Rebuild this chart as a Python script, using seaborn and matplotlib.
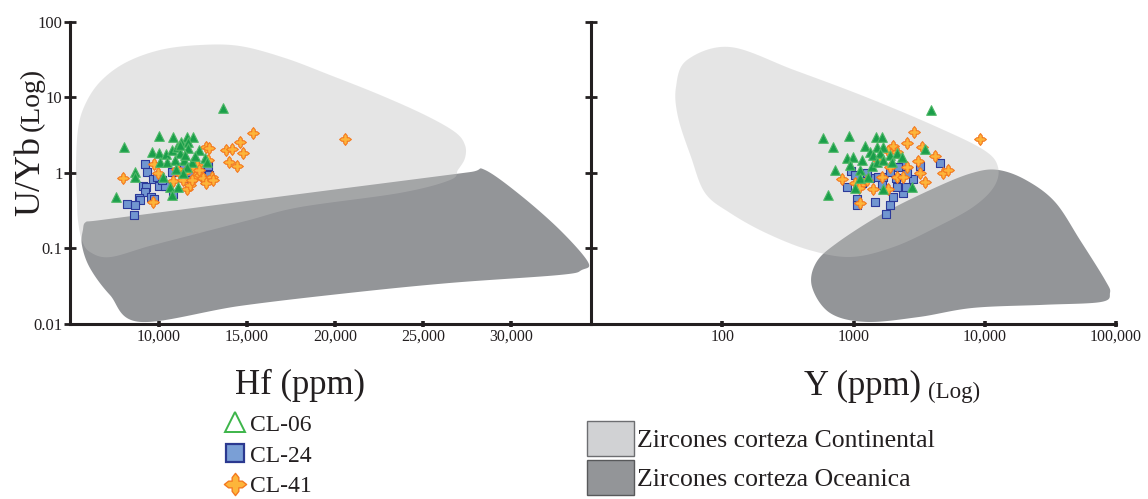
import numpy as np
import pandas as pd
import matplotlib
matplotlib.use("Agg")
import matplotlib.pyplot as plt
import seaborn as sns
from matplotlib.path import Path
from matplotlib.lines import Line2D
from matplotlib.patches import Patch, Polygon

# ---------------- data ----------------
samples = ["CL-06", "CL-24", "CL-41"]

# Hf panel (Hf ppm, U/Yb)
cl06_hf = [13640, 8010, 10000, 10800, 11590, 11930, 9600, 10000, 10400, 10740, 11020, 11250,
           11650, 11190, 11650, 12270, 12610, 12730, 10060, 10450, 10910, 11420, 11870, 8640,
           8640, 10230, 11590, 11360, 10620, 11080, 10740, 7560, 11190, 11480, 12050, 10960]
cl06_hf_uyb = [7.2, 2.2, 3.08, 3.0, 3.0, 3.0, 1.89, 1.83, 1.77, 2.0, 2.2, 2.56,
               2.56, 1.83, 2.13, 2.0, 1.56, 1.40, 1.40, 1.40, 1.48, 1.48, 1.40, 1.03,
               0.88, 0.88, 1.19, 1.0, 0.65, 0.65, 0.51, 0.48, 2.35, 1.72, 1.66, 1.12]

cl24_hf = [9205, 9318, 9659, 9091, 9262, 9205, 8864, 8921, 9546, 9716, 8182, 8637, 8580,
           10000, 10341, 10738, 10795, 11420, 11534, 12045, 12783, 12840, 9886, 11363,
           10170, 11761, 12329, 12613]
cl24_hf_uyb = [1.31, 1.03, 0.83, 0.67, 0.65, 0.556, 0.463, 0.44, 0.48, 0.45, 0.386, 0.375, 0.275,
               0.67, 0.67, 1.03, 0.523, 1.16, 0.85, 1.23, 1.23, 0.935, 0.88, 0.88,
               0.80, 1.03, 1.03, 0.80]

cl41_hf = [15339, 14601, 13806, 14146, 14771, 13976, 14430, 12670, 12840, 7955, 9716, 9943,
           9659, 10795, 11193, 11590, 11761, 11931, 12158, 12045, 12329, 12499, 12670, 13010,
           13067, 12783, 11022, 11363, 11874, 20565, 11477, 12272]
cl41_hf_uyb = [3.37, 2.56, 2.0, 2.05, 1.83, 1.40, 1.23, 2.2, 2.13, 0.85, 1.31, 1.0,
               0.41, 0.78, 0.97, 0.60, 0.69, 1.19, 1.26, 0.88, 0.935, 0.85, 0.74, 0.88,
               0.80, 1.48, 1.12, 0.80, 0.80, 2.8, 1.03, 1.09]

# Y panel (Y ppm, U/Yb)
cl06_y = [3890, 586, 924, 698, 1484, 1648, 3506, 1224, 1336, 1510, 1678, 892, 991, 1161,
          1408, 1592, 1897, 2145, 2342, 723, 1121, 1383, 1510, 1678, 1121, 1290, 1027, 1678,
          2790, 639, 940, 1964]
cl06_y_uyb = [6.8, 2.9, 3.08, 2.2, 3.0, 3.0, 2.05, 2.27, 1.89, 2.2, 2.2, 1.56, 1.61, 1.48,
              1.72, 1.83, 1.72, 1.83, 1.61, 1.09, 1.09, 1.23, 1.40, 1.48, 0.85, 0.88, 0.63, 0.61,
              0.65, 0.51, 1.26, 1.40]

cl24_y = [957, 892, 1064, 1064, 1459, 1770, 1897, 2000, 2383, 2512, 2840, 2557, 2383, 3212,
          4560, 1678, 2109, 1897, 1538, 1336, 1161, 1648, 2145, 1027, 1267, 2183]
cl24_y_uyb = [1.06, 0.65, 0.45, 0.375, 0.41, 0.284, 0.375, 0.48, 0.54, 0.65, 0.83, 1.0, 1.23, 1.23,
              1.35, 0.88, 0.85, 1.03, 0.88, 0.85, 0.74, 0.69, 0.65, 0.935, 1.0, 1.19]

cl41_y = [2891, 2557, 3326, 4178, 3099, 4808, 5248, 3506, 3212, 2557, 2000, 1831, 2145, 817,
          1408, 1121, 1648, 2145, 1897, 1831, 1121, 9200, 2383, 1538, 1267, 1027, 1101]
cl41_y_uyb = [3.47, 2.48, 2.2, 1.67, 1.43, 1.0, 1.09, 0.755, 1.0, 1.19, 2.27, 1.94, 1.89, 0.83,
              0.60, 0.40, 0.88, 0.88, 1.19, 0.61, 0.69, 2.8, 0.88, 1.48, 0.80, 0.74, 0.63]

# Field outlines (data coordinates)
cont_hf_x = [5342, 5286, 5399, 5797, 6649, 8069, 10057, 12329, 14601, 17157, 19713, 22553, 25109,
             26813, 27381, 27381, 26983, 26529, 23689, 18009, 15169, 12329, 9489, 7217, 6081, 5626, 5399]
cont_hf_y = [0.44, 1.09, 3.70, 7.93, 16.0, 28.6, 42.5, 49.5, 48.0, 33.3, 19.8, 10.8, 5.84,
             3.47, 2.34, 1.56, 1.09, 0.80, 0.54, 0.35, 0.237, 0.159, 0.107, 0.076, 0.089, 0.128, 0.237]
ocean_hf_x = [5854, 6649, 12329, 18009, 23689, 27665, 28517, 30505, 32777, 34367, 34026, 32777,
              26529, 20849, 14601, 8921, 7217, 6081, 5626, 5683]
ocean_hf_y = [0.222, 0.235, 0.35, 0.523, 0.774, 1.02, 1.09, 0.51, 0.174, 0.0656, 0.0514, 0.0441,
              0.0345, 0.0255, 0.0171, 0.0105, 0.0239, 0.0546, 0.110, 0.174]

cont_y_x = [114.6, 53.9, 44.4, 46.0, 57.8, 73.9, 114.6, 215, 458, 957, 2036, 4325, 8128, 11750,
            12620, 9860, 4325, 1245, 352]
cont_y_y = [46.6, 31.3, 13.7, 5.5, 1.62, 0.54, 0.293, 0.159, 0.0946, 0.0764, 0.104, 0.191, 0.35,
            0.65, 1.19, 2.0, 4.05, 10.1, 23.1]
ocean_y_x = [12620, 20610, 34280, 53200, 82400, 90000, 76900, 28250, 8128, 3155, 1245, 662, 483,
             518, 748, 1708, 4325, 8128]
ocean_y_y = [1.09, 0.80, 0.41, 0.128, 0.0379, 0.0255, 0.0193, 0.0177, 0.0161, 0.0122, 0.0105,
             0.0138, 0.0306, 0.0637, 0.117, 0.293, 0.65, 1.0]

hf_ticks = [10000, 15000, 20000, 25000, 30000]
hf_ticklabels = ["10,000", "15,000", "20,000", "25,000", "30,000"]
y_ticks = [100, 1000, 10000, 100000]
y_ticklabels = ["100", "1000", "10,000", "100,000"]
uyb_ticks = [0.01, 0.1, 1, 10, 100]
uyb_ticklabels = ["0.01", "0.1", "1", "10", "100"]

# ---------------- style ----------------
sns.set_style("white")
plt.rcParams["font.family"] = ["Liberation Serif", "DejaVu Serif"]
INK = "#231f20"

W, H = 1148, 499
fig = plt.figure(figsize=(W / 100, H / 100), dpi=100)
ax1 = fig.add_axes([70 / W, 1 - 323.5 / H, (591 - 70) / W, (323.5 - 22) / H])
ax2 = fig.add_axes([591 / W, 1 - 323.5 / H, (1116 - 591) / W, (323.5 - 22) / H])

cross = Path([(0, 1), (0.3, 0.62), (0.3, 0.3), (0.62, 0.3), (1, 0), (0.62, -0.3), (0.3, -0.3),
              (0.3, -0.62), (0, -1), (-0.3, -0.62), (-0.3, -0.3), (-0.62, -0.3), (-1, 0),
              (-0.62, 0.3), (-0.3, 0.3), (-0.3, 0.62), (0, 1)], closed=True)

styles = {
    "CL-06": dict(marker="^", color="#1a9e4a", edgecolor="#4fb867", s=48),
    "CL-24": dict(marker="s", color="#7196d0", edgecolor="#2c3a9a", s=32),
    "CL-41": dict(marker=cross, color="#fdb53a", edgecolor="#f47920", s=72),
}

OCEAN = "#939598"
CONT = "#c0c0c0"


def smooth_closed(xs, ys, n=24):
    P = np.column_stack([xs, ys])
    N = len(P)
    t = np.linspace(0, 1, n, endpoint=False)[:, None]
    out = []
    for i in range(N):
        p0, p1, p2, p3 = P[i - 1], P[i], P[(i + 1) % N], P[(i + 2) % N]
        out.append(0.5 * (2 * p1 + (-p0 + p2) * t + (2 * p0 - 5 * p1 + 4 * p2 - p3) * t ** 2
                          + (-p0 + 3 * p1 - 3 * p2 + p3) * t ** 3))
    return np.vstack(out)


def field(ax, xs, ys, logx, **kw):
    fx = np.log10(xs) if logx else np.asarray(xs, float)
    fy = np.log10(ys)
    pts = smooth_closed(fx, fy)
    px = 10 ** pts[:, 0] if logx else pts[:, 0]
    py = 10 ** pts[:, 1]
    ax.add_patch(Polygon(np.column_stack([px, py]), closed=True, lw=0, zorder=1, **kw))


panels = [
    (ax1, False, ocean_hf_x, ocean_hf_y, cont_hf_x, cont_hf_y,
     {"CL-24": (cl24_hf, cl24_hf_uyb), "CL-41": (cl41_hf, cl41_hf_uyb), "CL-06": (cl06_hf, cl06_hf_uyb)}),
    (ax2, True, ocean_y_x, ocean_y_y, cont_y_x, cont_y_y,
     {"CL-24": (cl24_y, cl24_y_uyb), "CL-41": (cl41_y, cl41_y_uyb), "CL-06": (cl06_y, cl06_y_uyb)}),
]

for ax, logx, ox, oy, cx, cy, series in panels:
    ax.set_yscale("log")
    if logx:
        ax.set_xscale("log")
    field(ax, ox, oy, logx, facecolor=OCEAN)
    field(ax, cx, cy, logx, facecolor=CONT, alpha=0.4)
    for name, (xv, yv) in series.items():
        df = pd.DataFrame({"x": xv, "uyb": yv, "sample": name})
        st = styles[name]
        sns.scatterplot(data=df, x="x", y="uyb", ax=ax, marker=st["marker"], color=st["color"],
                        edgecolor=st["edgecolor"], s=st["s"], linewidth=0.8, zorder=3, legend=False)
    ax.set_ylim(0.01, 100)
    ax.set_xlabel("")
    ax.set_ylabel("")
    ax.set_facecolor("none")
    for sp in ["top", "right"]:
        ax.spines[sp].set_visible(False)
    for sp in ["left", "bottom"]:
        ax.spines[sp].set_color(INK)
        ax.spines[sp].set_linewidth(2.2)
    ax.minorticks_off()
    ax.set_yticks(uyb_ticks)
    ax.set_yticklabels(uyb_ticklabels)
    ax.tick_params(axis="y", which="major", left=True, direction="inout", length=9, width=2.0,
                   color=INK, labelsize=12, pad=1, labelcolor=INK)
    ax.tick_params(axis="x", which="major", bottom=True, direction="inout", length=4, width=2.6,
                   color=INK, labelsize=11.5, pad=2, labelcolor=INK)
    ax.tick_params(which="minor", length=0)

ax1.set_xlim(4950, 34540)
ax1.set_xticks(hf_ticks)
ax1.set_xticklabels(hf_ticklabels)

ax2.set_xlim(10, 100000)
ax2.set_xticks(y_ticks)
ax2.set_xticklabels(y_ticklabels)
ax2.minorticks_off()
ax2.tick_params(axis="y", labelleft=False)

# axis titles
fig.text(39 / W, 1 - 216 / H, "U/Yb", rotation=90, rotation_mode="anchor", ha="left",
         va="baseline", fontsize=26, color=INK)
fig.text(39 / W, 1 - 131 / H, "(Log)", rotation=90, rotation_mode="anchor", ha="left",
         va="baseline", fontsize=20, color=INK)
fig.text(300 / W, 1 - 394 / H, "Hf (ppm)", ha="center", va="baseline", fontsize=25, color=INK)
fig.text(804 / W, 1 - 395 / H, "Y (ppm)", ha="left", va="baseline", fontsize=25, color=INK)
fig.text(928 / W, 1 - 398 / H, "(Log)", ha="left", va="baseline", fontsize=16.5, color=INK)

# legends
h1 = [
    Line2D([], [], ls="none", marker="^", markersize=14, markerfacecolor="white",
           markeredgecolor="#3db54a", markeredgewidth=1.4),
    Line2D([], [], ls="none", marker="s", markersize=13, markerfacecolor="#7a9fd6",
           markeredgecolor="#2b3990", markeredgewidth=1.6),
    Line2D([], [], ls="none", marker=cross, markersize=16, markerfacecolor="#fdb53a",
           markeredgecolor="#f47920", markeredgewidth=1.0),
]
leg1 = fig.legend(h1, samples, loc="upper left", bbox_to_anchor=(223 / W, 1 - 414 / H),
                  frameon=False, fontsize=17, handlelength=1.0, handletextpad=0.15,
                  borderpad=0, borderaxespad=0, labelspacing=0.4)
for t in leg1.get_texts():
    t.set_color(INK)

h2 = [Patch(facecolor="#d1d2d4", edgecolor="#6d6e71", lw=1),
      Patch(facecolor="#939598", edgecolor="#58595b", lw=1)]
leg2 = fig.legend(h2, ["Zircones corteza Continental", "Zircones corteza Oceanica"],
                  loc="upper left", bbox_to_anchor=(587 / W, 1 - 421 / H), frameon=False,
                  fontsize=18.5, handlelength=1.83, handleheight=1.72, handletextpad=0.1,
                  borderpad=0, borderaxespad=0, labelspacing=0.16)
for t in leg2.get_texts():
    t.set_color(INK)

fig.savefig("out.png", dpi=100)
